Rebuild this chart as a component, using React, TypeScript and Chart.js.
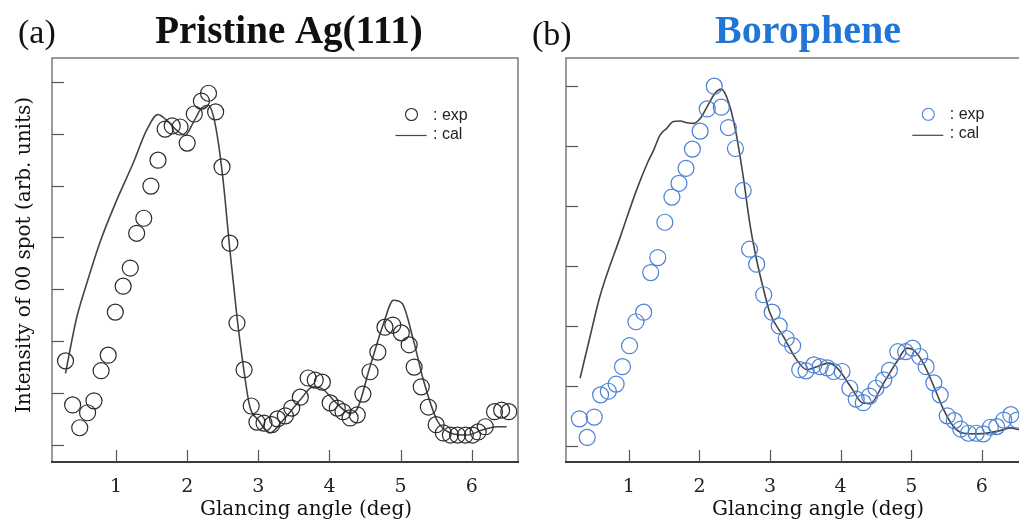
import React, { useEffect, useRef } from 'react';
import { Chart, registerables } from 'chart.js';

Chart.register(...registerables);

// ---------- data ----------
const xTickValues = [1, 2, 3, 4, 5, 6];
const yTicksA = [0, 1, 2, 3, 4, 5, 6, 7];
const yTicksB = [0, 1, 2, 3, 4, 5, 6];

const expA_x = [0.29, 0.39, 0.49, 0.60, 0.69, 0.79, 0.89, 0.99, 1.10, 1.20, 1.29, 1.39, 1.49, 1.59, 1.69, 1.79, 1.90, 2.00, 2.10, 2.20, 2.30, 2.40, 2.49, 2.60, 2.70, 2.80, 2.90, 2.98, 3.08, 3.19, 3.27, 3.38, 3.47, 3.59, 3.70, 3.80, 3.90, 4.01, 4.11, 4.19, 4.29, 4.39, 4.47, 4.57, 4.68, 4.78, 4.89, 5.01, 5.12, 5.19, 5.29, 5.39, 5.50, 5.60, 5.70, 5.80, 5.91, 6.01, 6.09, 6.19, 6.32, 6.42, 6.52];
const expA_y = [1.62, 0.77, 0.33, 0.62, 0.85, 1.43, 1.73, 2.56, 3.06, 3.41, 4.08, 4.37, 4.99, 5.49, 6.09, 6.15, 6.13, 5.82, 6.38, 6.63, 6.78, 6.42, 5.36, 3.89, 2.35, 1.45, 0.75, 0.44, 0.42, 0.39, 0.50, 0.56, 0.71, 0.92, 1.29, 1.25, 1.21, 0.81, 0.71, 0.64, 0.52, 0.58, 0.98, 1.41, 1.79, 2.27, 2.31, 2.16, 1.93, 1.50, 1.12, 0.73, 0.39, 0.23, 0.19, 0.19, 0.19, 0.19, 0.25, 0.35, 0.64, 0.67, 0.64];

const calA_x = [0.29, 0.38, 0.45, 0.59, 0.77, 1.01, 1.24, 1.43, 1.59, 1.71, 1.85, 1.97, 2.09, 2.20, 2.30, 2.37, 2.44, 2.51, 2.60, 2.70, 2.79, 2.88, 3.00, 3.16, 3.35, 3.59, 3.77, 3.89, 4.10, 4.29, 4.38, 4.57, 4.76, 4.90, 5.02, 5.18, 5.32, 5.51, 5.70, 5.93, 6.16, 6.35, 6.49];
const calA_y = [1.38, 2.02, 2.47, 3.12, 3.89, 4.72, 5.43, 6.07, 6.37, 6.26, 6.07, 5.97, 6.23, 6.49, 6.55, 6.33, 5.81, 5.04, 3.76, 2.47, 1.51, 0.74, 0.48, 0.23, 0.48, 0.87, 1.12, 1.09, 0.80, 0.61, 0.67, 1.51, 2.34, 2.79, 2.73, 2.02, 1.25, 0.48, 0.23, 0.19, 0.29, 0.35, 0.35];

const expB_x = [0.30, 0.41, 0.51, 0.60, 0.71, 0.82, 0.91, 1.01, 1.10, 1.21, 1.31, 1.41, 1.51, 1.61, 1.71, 1.81, 1.90, 2.01, 2.11, 2.21, 2.31, 2.41, 2.51, 2.62, 2.71, 2.81, 2.91, 3.03, 3.13, 3.23, 3.32, 3.42, 3.51, 3.62, 3.71, 3.81, 3.90, 4.02, 4.13, 4.22, 4.32, 4.41, 4.50, 4.61, 4.69, 4.81, 4.92, 5.02, 5.12, 5.21, 5.32, 5.41, 5.51, 5.61, 5.70, 5.81, 5.92, 6.02, 6.12, 6.21, 6.31, 6.41, 6.50];
const expB_y = [0.45, 0.14, 0.48, 0.85, 0.91, 1.03, 1.32, 1.67, 2.07, 2.23, 2.89, 3.14, 3.73, 4.15, 4.38, 4.63, 4.95, 5.25, 5.62, 6.00, 5.65, 5.31, 4.96, 4.26, 3.28, 3.03, 2.52, 2.23, 2.00, 1.79, 1.67, 1.27, 1.25, 1.35, 1.32, 1.30, 1.24, 1.24, 0.96, 0.78, 0.72, 0.83, 0.96, 1.10, 1.26, 1.57, 1.57, 1.63, 1.49, 1.32, 1.05, 0.85, 0.50, 0.42, 0.28, 0.21, 0.21, 0.20, 0.31, 0.32, 0.43, 0.52, 0.43];

const calB_x = [0.31, 0.45, 0.59, 0.88, 1.11, 1.26, 1.35, 1.44, 1.54, 1.63, 1.73, 1.82, 1.92, 2.01, 2.11, 2.22, 2.31, 2.41, 2.51, 2.62, 2.72, 2.81, 2.91, 3.00, 3.19, 3.38, 3.52, 3.66, 3.83, 3.95, 4.14, 4.32, 4.42, 4.61, 4.80, 4.94, 5.03, 5.17, 5.32, 5.46, 5.60, 5.74, 5.93, 6.12, 6.31, 6.40, 6.53];
const calB_y = [1.13, 1.82, 2.49, 3.49, 4.27, 4.71, 4.93, 5.18, 5.30, 5.41, 5.42, 5.39, 5.38, 5.46, 5.66, 5.88, 5.95, 5.74, 5.27, 4.49, 3.66, 3.10, 2.60, 2.21, 1.82, 1.43, 1.27, 1.32, 1.38, 1.30, 0.99, 0.71, 0.71, 1.05, 1.41, 1.63, 1.60, 1.38, 0.99, 0.60, 0.32, 0.21, 0.20, 0.22, 0.27, 0.30, 0.27];

const seriesLabels = [': exp', ': cal'];
const xAxisTitle = 'Glancing angle (deg)';
const yAxisTitle = 'Intensity of 00 spot (arb. units)';

// ---------- plugin: frame, inward ticks, legend, texts ----------
const framePlugin = {
  id: 'frame',
  afterDraw(chart: any, _args: any, opts: any) {
    const { ctx, chartArea: a, scales } = chart;
    ctx.save();
    const line = (x1: number, y1: number, x2: number, y2: number) => {
      ctx.beginPath();
      ctx.moveTo(x1, y1);
      ctx.lineTo(x2, y2);
      ctx.stroke();
    };
    // frame
    ctx.strokeStyle = opts.frameColor;
    ctx.lineWidth = 1.5;
    ctx.beginPath();
    ctx.moveTo(a.left, a.bottom);
    ctx.lineTo(a.left, a.top);
    ctx.lineTo(a.right, a.top);
    if (opts.right) ctx.lineTo(a.right, a.bottom);
    ctx.stroke();
    ctx.strokeStyle = opts.bottomColor;
    ctx.lineWidth = 2;
    line(a.left - 1, a.bottom, a.right + 1, a.bottom);
    // inward ticks
    ctx.strokeStyle = opts.tickColor;
    ctx.lineWidth = 1.2;
    for (const v of opts.xTicks) {
      const px = Math.round(scales.x.getPixelForValue(v)) + 0.5;
      line(px, a.bottom, px, a.bottom - opts.tickLen);
    }
    for (const v of opts.yTicks) {
      const py = Math.round(scales.y.getPixelForValue(v)) + 0.5;
      line(a.left, py, a.left + opts.tickLen, py);
    }
    // legend
    const lg = opts.legend;
    const ds = chart.data.datasets;
    ctx.lineWidth = 1.1;
    ctx.strokeStyle = ds[0].borderColor;
    ctx.beginPath();
    ctx.arc(lg.x, lg.y, 6, 0, Math.PI * 2);
    ctx.stroke();
    ctx.strokeStyle = ds[1].borderColor;
    ctx.lineWidth = 1.2;
    line(lg.x - 16, lg.y + 21, lg.x + 15, lg.y + 21);
    ctx.fillStyle = '#222';
    ctx.font = '16px "Liberation Sans", Arial, sans-serif';
    ctx.textAlign = 'left';
    ctx.textBaseline = 'alphabetic';
    ctx.fillText(ds[0].label, lg.x + 21.5, lg.y + 5);
    ctx.fillText(ds[1].label, lg.x + 21.5, lg.y + 24);
    // texts
    for (const t of opts.texts) {
      ctx.save();
      ctx.font = t.font;
      ctx.fillStyle = t.color || '#111';
      ctx.textAlign = t.align || 'left';
      ctx.textBaseline = 'alphabetic';
      ctx.translate(t.x, t.y);
      if (t.rotate) ctx.rotate(t.rotate);
      ctx.fillText(t.text, 0, 0);
      ctx.restore();
    }
    ctx.restore();
  },
};

const serifTick = { family: '"DejaVu Serif", serif', size: 19 };

function makeConfig(p: any) {
  return {
    type: 'scatter',
    data: {
      datasets: [
        {
          label: seriesLabels[0],
          data: p.ex.map((x: number, i: number) => ({ x, y: p.ey[i] })),
          showLine: false,
          pointStyle: 'circle',
          pointRadius: 8,
          pointHoverRadius: 8,
          pointBorderWidth: 1.2,
          borderColor: p.expColor,
          backgroundColor: 'rgba(0,0,0,0)',
        },
        {
          label: seriesLabels[1],
          data: p.cx.map((x: number, i: number) => ({ x, y: p.cy[i] })),
          showLine: true,
          pointRadius: 0,
          borderColor: '#444444',
          borderWidth: 1.6,
          cubicInterpolationMode: 'monotone',
          backgroundColor: 'rgba(0,0,0,0)',
        },
      ],
    },
    options: {
      responsive: false,
      animation: false,
      events: [],
      layout: { autoPadding: false, padding: { left: 0, top: 58, right: p.padRight, bottom: 0 } },
      plugins: {
        legend: { display: false },
        tooltip: { enabled: false },
        frame: {
          frameColor: '#7a7a7a',
          bottomColor: '#3a3a3a',
          tickColor: '#555',
          tickLen: 12,
          right: p.rightBorder,
          xTicks: xTickValues,
          yTicks: p.yTicks,
          legend: p.legend,
          texts: p.texts,
        },
      },
      scales: {
        x: {
          type: 'linear',
          min: p.xMin,
          max: p.xMax,
          afterBuildTicks: (s: any) => {
            s.ticks = xTickValues.map((v) => ({ value: v }));
          },
          afterFit: (s: any) => {
            s.height = 61;
            s.paddingLeft = 0;
            s.paddingRight = 0;
          },
          ticks: {
            font: serifTick,
            color: '#222',
            padding: 6,
            autoSkip: false,
            maxRotation: 0,
            callback: (v: any) => String(v),
          },
          grid: { display: false },
          border: { display: false },
        },
        y: {
          type: 'linear',
          min: p.yMin,
          max: p.yMax,
          afterFit: (s: any) => {
            s.width = p.yWidth;
            s.paddingTop = 0;
            s.paddingBottom = 0;
          },
          ticks: { display: false },
          grid: { display: false },
          border: { display: false },
        },
      },
    },
    plugins: [framePlugin],
  };
}

function Panel(props: any) {
  const ref = useRef<HTMLCanvasElement | null>(null);
  useEffect(() => {
    if (!ref.current) return;
    const chart = new Chart(ref.current, makeConfig(props.cfg) as any);
    return () => chart.destroy();
  }, []);
  return (
    <canvas
      ref={ref}
      width={props.w}
      height={523}
      style={{ position: 'absolute', left: props.left, top: 0, width: props.w, height: 523 }}
    />
  );
}

const titleFont = 'bold 39px "Liberation Serif", "Times New Roman", serif';
const labelFont = '34px "Liberation Serif", "Times New Roman", serif';
const axisFont = '20px "DejaVu Serif", serif';

const cfgA = {
  ex: expA_x, ey: expA_y, cx: calA_x, cy: calA_y,
  expColor: '#2b2b2b',
  xMin: 0.1, xMax: 6.65, yMin: -0.33, yMax: 7.46,
  yTicks: yTicksA, yWidth: 52, padRight: 2, rightBorder: true,
  legend: { x: 411.5, y: 114.5 },
  texts: [
    { text: '(a)', x: 18, y: 43, font: labelFont },
    { text: 'Pristine Ag(111)', x: 289, y: 43, font: titleFont, align: 'center' },
    { text: xAxisTitle, x: 306, y: 515, font: axisFont, align: 'center' },
    { text: yAxisTitle, x: 29.5, y: 255, font: axisFont, align: 'center', rotate: -Math.PI / 2 },
  ],
};

const cfgB = {
  ex: expB_x, ey: expB_y, cx: calB_x, cy: calB_y,
  expColor: '#4a80d6',
  xMin: 0.11, xMax: 6.71, yMin: -0.27, yMax: 6.47,
  yTicks: yTicksB, yWidth: 46, padRight: 8, rightBorder: false,
  legend: { x: 408.3, y: 114.3 },
  texts: [
    { text: '(b)', x: 12, y: 45, font: labelFont },
    { text: 'Borophene', x: 288, y: 43, font: 'bold 40px "Liberation Serif", "Times New Roman", serif', align: 'center', color: '#1f76d6' },
    { text: xAxisTitle, x: 298, y: 515, font: axisFont, align: 'center' },
  ],
};

export default function App() {
  return (
    <div
      style={{
        position: 'absolute',
        left: 0,
        top: 0,
        width: 1019,
        height: 523,
        overflow: 'hidden',
        background: '#ffffff',
      }}
    >
      <Panel cfg={cfgA} left={0} w={520} />
      <Panel cfg={cfgB} left={520} w={520} />
    </div>
  );
}
